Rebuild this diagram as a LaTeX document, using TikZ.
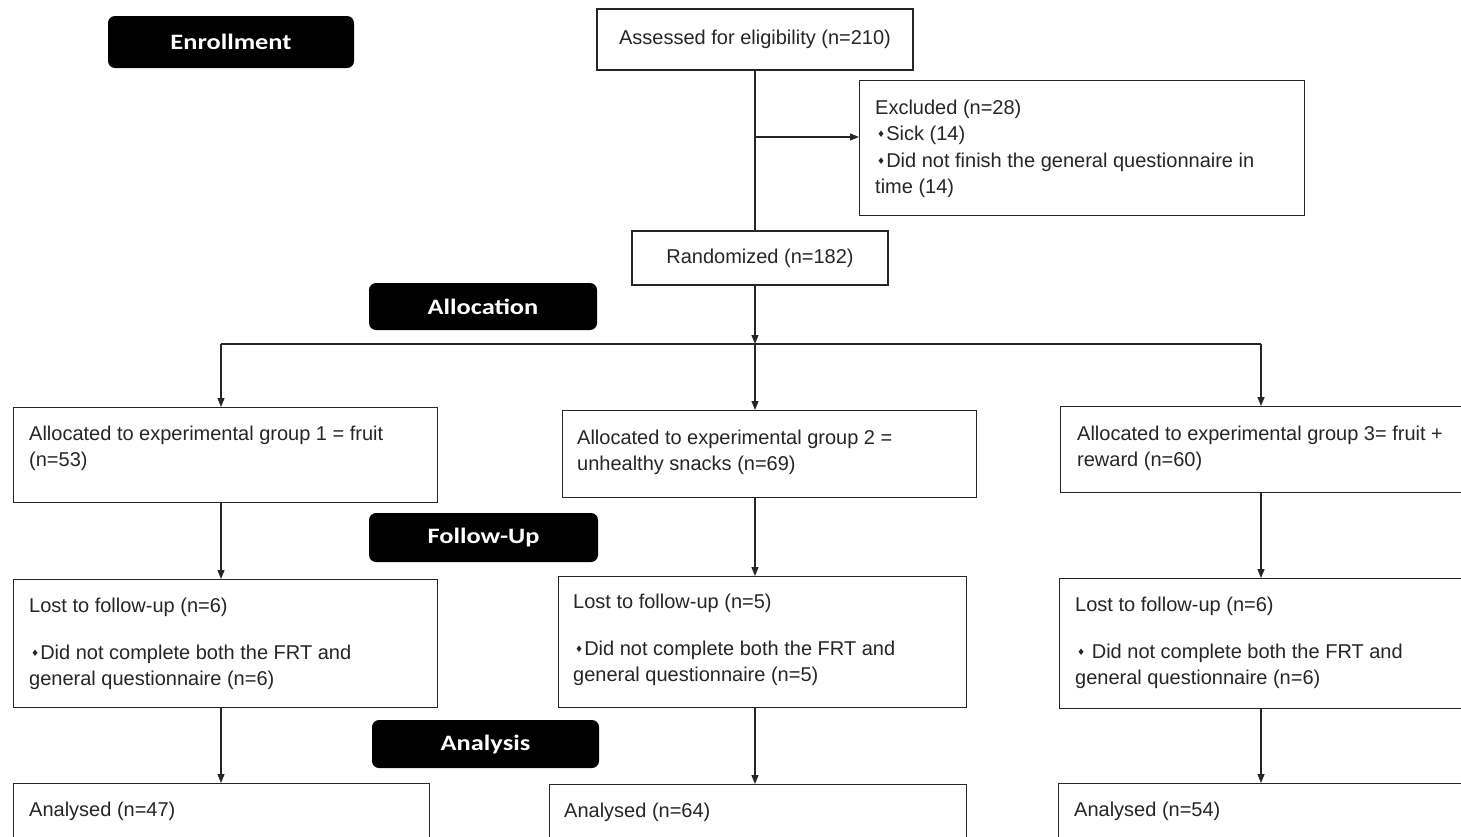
\documentclass[tikz,border=0pt]{standalone}
\usepackage{fontspec}
\setmainfont{Liberation Sans}
\newfontfamily\lblfont[FakeStretch=1.2]{Carlito}
\newfontfamily\symfont{DejaVu Sans}
\usetikzlibrary{arrows.meta}
\newcommand\bul{\hspace{2pt}\raisebox{3pt}{\symfont\fontsize{9}{9}\selectfont ♦}\hspace{1pt}}
\begin{document}
\begin{tikzpicture}[x=1pt,y=-1pt,
  box/.style={draw=black!85, line width=1.3pt, anchor=north west, inner sep=0pt},
  cbox/.style={draw=black!85, line width=1.3pt, inner sep=0pt, font=\fontsize{20}{26.5}\selectfont, text=black!85},
  txt/.style={anchor=north west, inner sep=0pt, align=left, font=\fontsize{20}{26.5}\selectfont, text=black!85},
  tag/.style={fill=black, rounded corners=7pt, text=white, font=\lblfont\bfseries\fontsize{22}{26}\selectfont, inner sep=0pt},
  arr/.style={line width=1.3pt, draw=black!85, -{Triangle[length=9pt,width=7pt]}},
  ln/.style={line width=1.3pt, draw=black!85}]
\useasboundingbox (0,0) rectangle (1461,836);
\clip (0,0) rectangle (1461,836);
\fill[white] (0,0) rectangle (1461,836);

% stage tags
\node[tag, minimum width=246pt, minimum height=52pt] (t1) at (231,42) {Enrollment};
\node[tag, minimum width=228pt, minimum height=47pt] (t2) at (483,306.5) {Allocation};
\node[tag, minimum width=229pt, minimum height=49pt] (t3) at (483.5,537.5) {Follow-Up};
\node[tag, minimum width=227pt, minimum height=48pt] (t4) at (485.5,744) {Analysis};

% boxes
\node[cbox, minimum width=316pt, minimum height=61pt] (assess) at (755,39.5) {Assessed for eligibility (n=210)};
\node[box, minimum width=445pt, minimum height=135pt] (excl) at (859,80) {};
\node[cbox, minimum width=256pt, minimum height=54pt] (rand) at (760,258) {Randomized (n=182)};
\node[box, minimum width=424pt, minimum height=95pt] (g1) at (13,407) {};
\node[box, minimum width=414pt, minimum height=87pt] (g2) at (562,410) {};
\node[box, minimum width=420pt, minimum height=86pt] (g3) at (1060,406) {};
\node[box, minimum width=424pt, minimum height=128pt] (l1) at (13,579) {};
\node[box, minimum width=408pt, minimum height=131pt] (l2) at (558,576) {};
\node[box, minimum width=420pt, minimum height=130pt] (l3) at (1059,578) {};
\node[box, minimum width=416pt, minimum height=100pt] (a1) at (13,783) {};
\node[box, minimum width=417pt, minimum height=100pt] (a2) at (549,784) {};
\node[box, minimum width=420pt, minimum height=100pt] (a3) at (1058,783) {};

% texts
\node[txt] (excltxt) at (875,99) {\rule{0pt}{15pt}Excluded (n=28)\\\bul Sick (14)\\\bul Did not finish the general questionnaire in\\time (14)};
\node[txt] (g1txt) at (29,425) {\rule{0pt}{15pt}Allocated to experimental group 1 = fruit\\(n=53)};
\node[txt] (g2txt) at (577,429) {\rule{0pt}{15pt}Allocated to experimental group 2 =\\unhealthy snacks (n=69)};
\node[txt] (g3txt) at (1077,425) {\rule{0pt}{15pt}Allocated to experimental group 3= fruit +\\reward (n=60)};
\node[txt] (l1txt) at (29,597) {\rule{0pt}{15pt}Lost to follow-up (n=6)\\[20.5pt]\bul Did not complete both the FRT and\\general questionnaire (n=6)};
\node[txt] (l2txt) at (573,593) {\rule{0pt}{15pt}Lost to follow-up (n=5)\\[20.5pt]\bul Did not complete both the FRT and\\general questionnaire (n=5)};
\node[txt] (l3txt) at (1075,596) {\rule{0pt}{15pt}Lost to follow-up (n=6)\\[20.5pt]\bul\ Did not complete both the FRT and\\general questionnaire (n=6)};
\node[txt] (a1txt) at (29,801) {\rule{0pt}{15pt}Analysed (n=47)};
\node[txt] (a2txt) at (564,802) {\rule{0pt}{15pt}Analysed (n=64)};
\node[txt] (a3txt) at (1074,801) {\rule{0pt}{15pt}Analysed (n=54)};

% connectors
\coordinate (ex) at (755,137);
\coordinate (br) at (755,344);
\coordinate (b1) at (221,344);
\coordinate (b3) at (1261,344);
\draw[ln] (assess.south) -- (assess.south |- rand.north);
\draw[arr] (ex) -- (ex -| excl.west);
\draw[arr] (rand.south -| br) -- (br);
\draw[ln] (b1) -- (b3);
\draw[arr] (b1) -- (b1 |- g1.north);
\draw[arr] (br) -- (br |- g2.north);
\draw[arr] (b3) -- (b3 |- g3.north);
\draw[arr] (b1 |- g1.south) -- (b1 |- l1.north);
\draw[arr] (br |- g2.south) -- (br |- l2.north);
\draw[arr] (b3 |- g3.south) -- (b3 |- l3.north);
\draw[arr] (b1 |- l1.south) -- (b1 |- a1.north);
\draw[arr] (br |- l2.south) -- (br |- a2.north);
\draw[arr] (b3 |- l3.south) -- (b3 |- a3.north);
\end{tikzpicture}
\end{document}
